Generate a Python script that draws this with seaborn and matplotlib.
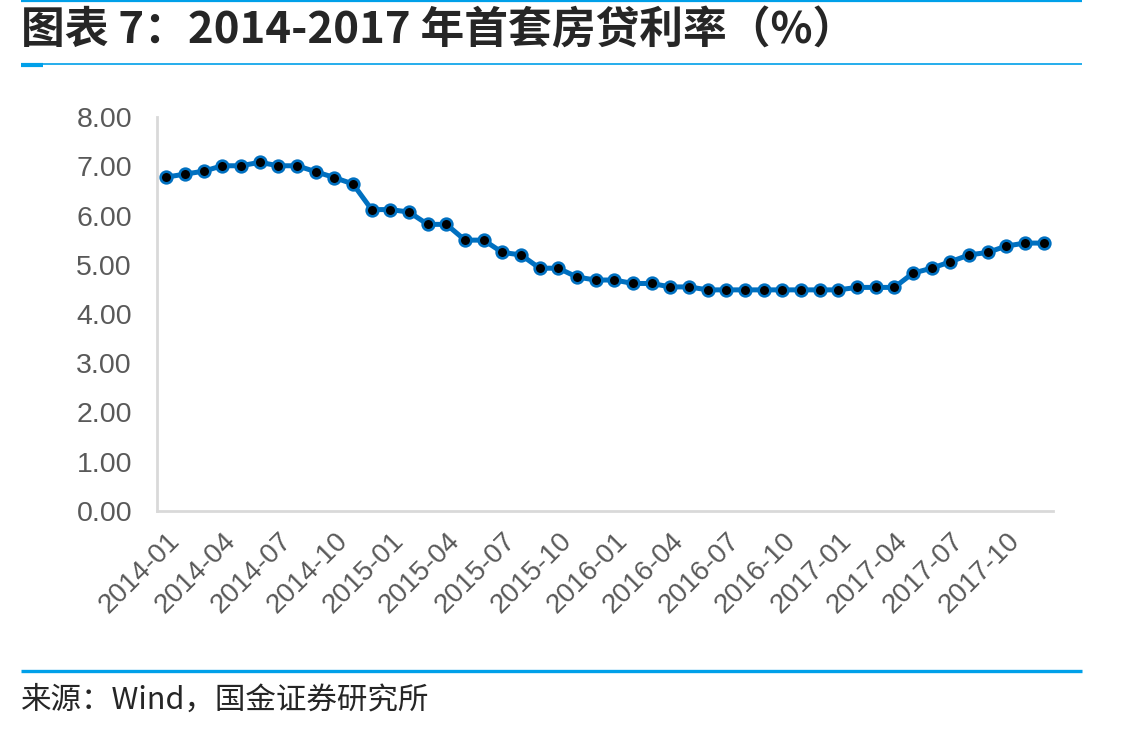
import matplotlib
matplotlib.use("Agg")
import matplotlib.pyplot as plt
import matplotlib.lines as mlines
import seaborn as sns
import pandas as pd
import numpy as np

# Data: first-home mortgage rate, monthly 2014-01 .. 2017-12
months = pd.period_range("2014-01", "2017-12", freq="M").strftime("%Y-%m").tolist()
rates = [6.78, 6.84, 6.90, 7.01, 7.01, 7.08, 7.01, 7.01, 6.89, 6.77, 6.64, 6.12,
         6.12, 6.07, 5.82, 5.82, 5.50, 5.50, 5.25, 5.20, 4.93, 4.93, 4.75, 4.69,
         4.69, 4.62, 4.62, 4.55, 4.55, 4.49, 4.49, 4.49, 4.49, 4.49, 4.49, 4.49,
         4.49, 4.54, 4.54, 4.54, 4.83, 4.93, 5.06, 5.20, 5.25, 5.38, 5.44, 5.44]
yticks = [0, 1, 2, 3, 4, 5, 6, 7, 8]

title = "图表 7：2014-2017 年首套房贷利率（%）"
source = "来源：Wind，国金证券研究所"

df = pd.DataFrame({"pos": np.arange(len(months)), "month": months, "rate": rates})

sns.set_style("white")
plt.rcParams['font.family'] = ['Liberation Sans', 'Noto Sans CJK SC', 'DejaVu Sans']

blue = "#0070C0"
accent = "#00A0E9"
grey_axis = "#D9D9D9"
grey_text = "#595959"

fig = plt.figure(figsize=(11.25, 7.31), dpi=100)
ax = fig.add_axes([157 / 1125, 1 - 511 / 731, (1053 - 157) / 1125, (511 - 117) / 731])

sns.lineplot(data=df, x="pos", y="rate", ax=ax, color=blue, linewidth=3.6,
             marker="o", markersize=8.4, markerfacecolor="black",
             markeredgecolor=blue, markeredgewidth=1.9)

ax.set_xlim(-0.5, len(months) - 0.5)
ax.set_ylim(0, 8)
ax.set_xlabel("")
ax.set_ylabel("")

# category boundaries get tick marks, labels sit on every third month
ax.set_xticks(np.arange(-0.5, len(months), 3))
ax.set_xticklabels([])
ax.set_xticks(df["pos"][::3], minor=True)
ax.set_xticklabels(df["month"][::3], minor=True, rotation=45, ha="right",
                   rotation_mode="anchor", fontsize=20, color=grey_text)
ax.tick_params(axis="x", which="major", direction="in", length=6.5, width=1.4, color=grey_axis)
ax.tick_params(axis="x", which="minor", length=0, pad=12)

ax.set_yticks(yticks)
ax.set_yticklabels([f"{v:.2f}" for v in yticks], fontsize=20.5, color=grey_text)
ax.tick_params(axis="y", direction="in", length=6.5, width=1.4, color=grey_axis, pad=18)

for side in ["top", "right"]:
    ax.spines[side].set_visible(False)
for side in ["left", "bottom"]:
    ax.spines[side].set_color(grey_axis)
    ax.spines[side].set_linewidth(2)

# Report frame: title, rules and source
def hline(y_px, lw, x0=21, x1=1082):
    fig.add_artist(mlines.Line2D([x0 / 1125, x1 / 1125], [1 - y_px / 731] * 2,
                                 color=accent, linewidth=lw, solid_capstyle="butt"))

hline(1, 1.6)
hline(64, 1.2)
hline(65, 3.0, 21, 43)
hline(671, 2.4)

fig.text(21 / 1125, 1 - 30 / 731, title, fontsize=31.5, fontweight="bold",
         va="center", ha="left", family=['Noto Sans CJK SC', 'DejaVu Sans'])
fig.text(21 / 1125, 1 - 700 / 731, source, fontsize=22, va="center", ha="left",
         family=['Noto Sans CJK SC', 'DejaVu Sans'])

fig.savefig("out.png", dpi=100)
